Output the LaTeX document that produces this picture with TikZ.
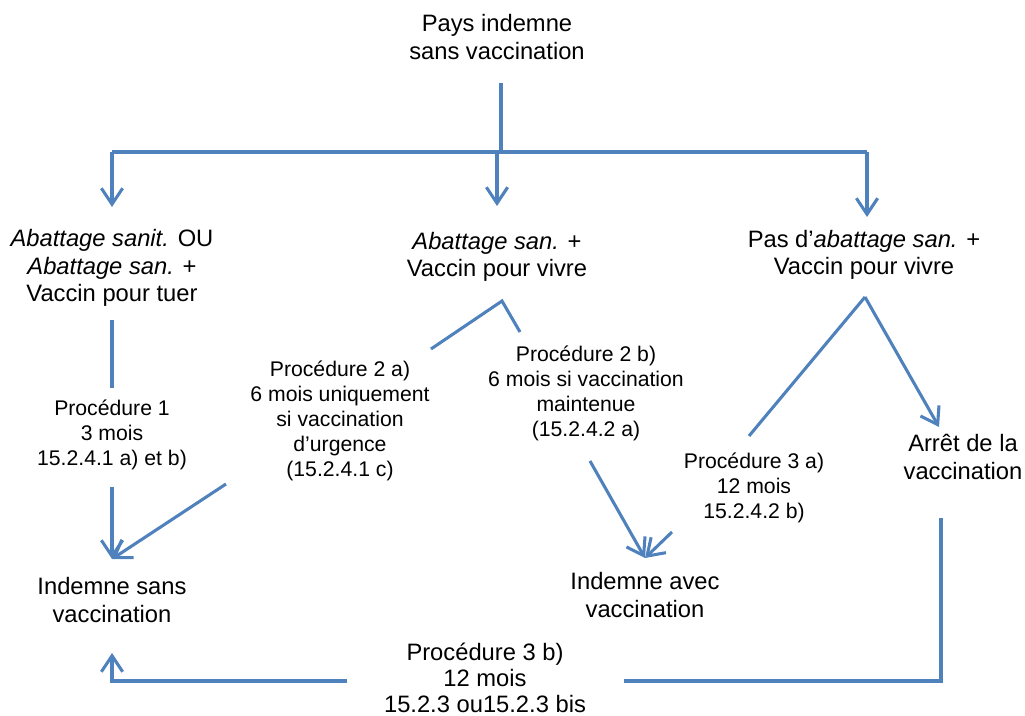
\documentclass[tikz,border=0pt]{standalone}
\usepackage{fontspec}
\setmainfont{Liberation Sans}
\usetikzlibrary{arrows.meta}
\definecolor{flowblue}{RGB}{79,129,189}
\begin{document}
\begin{tikzpicture}[x=0.75pt,y=-0.75pt,
  state/.style={align=center,inner sep=0pt,font=\fontsize{17.8}{20.6}\selectfont},
  proc/.style={align=center,inner sep=0pt,font=\fontsize{15.9}{18.7}\selectfont},
  link/.style={draw=flowblue,line width=2.3pt,line join=miter},
  arr/.style={link,-{Straight Barb[length=12pt,width=16pt,line width=2.3pt]}}]
\useasboundingbox (0,0) rectangle (1025,716);

% states
\node[state] (pays) at (497,37) {Pays indemne\\sans vaccination};
\node[state] (abk) at (112,268) {\textit{Abattage sanit.} OU\\\textit{Abattage san.} +\\Vaccin pour tuer};
\node[state] (abv) at (497,257) {\textit{Abattage san.} +\\Vaccin pour vivre};
\node[state] (nab) at (864,255) {Pas d’\textit{abattage san.} +\\Vaccin pour vivre};
\node[state] (arret) at (963,457) {Arrêt de la\\vaccination};
\node[state] (isv) at (112,600) {Indemne sans\\vaccination};
\node[state] (iav) at (645,595) {Indemne avec\\vaccination};

% procedure labels
\node[proc] (p1) at (112,435) {Procédure 1\\3 mois\\15.2.4.1 a) et b)};
\node[proc] (p2a) at (340,421) {Procédure 2 a)\\6 mois uniquement\\si vaccination\\d’urgence\\(15.2.4.1 c)};
\node[proc] (p2b) at (586,393) {Procédure 2 b)\\6 mois si vaccination\\maintenue\\(15.2.4.2 a)};
\node[proc] (p3a) at (754,488) {Procédure 3 a)\\12 mois\\15.2.4.2 b)};
\node[state,font=\fontsize{17.8}{19.6}\selectfont] (p3b) at (485,678) {Procédure 3 b)\\12 mois\\15.2.3 ou15.2.3 bis};

% connector end points
\coordinate (stemtop) at (501,83);
\coordinate (junc) at (501,152);
\coordinate (jl) at (112,152);
\coordinate (jm) at (497,152);
\coordinate (jr) at (867,152);
\coordinate (tipl) at (112,207);
\coordinate (tipm) at (497,206);
\coordinate (tipr) at (867,217);
\coordinate (p1top) at (112,320);
\coordinate (p1mid) at (112,388);
\coordinate (p1low) at (112,487);
\coordinate (tipisv) at (112,559);
\coordinate (p2aend) at (226,484);
\coordinate (wml) at (431,349);
\coordinate (wmtop) at (502,301);
\coordinate (wmr) at (520,332);
\coordinate (p2bend) at (590,461);
\coordinate (tipiav) at (645,558);
\coordinate (p3aend) at (672,532);
\coordinate (wrl) at (749,436);
\coordinate (wrtop) at (865,297);
\coordinate (tiparret) at (939,427);
\coordinate (rtop) at (941,518);
\coordinate (rbot) at (941,681);
\coordinate (bright) at (624,681);
\coordinate (bleft) at (347,681);
\coordinate (lbot) at (112,681);
\coordinate (tipisv2) at (112,653);

% top branching
\draw[link] (stemtop) -- (junc);
\draw[link] (jl) -- (jr);
\draw[arr] (jl) -- (tipl);
\draw[arr] (jm) -- (tipm);
\draw[arr] (jr) -- (tipr);

% left branch
\draw[link] (p1top) -- (p1mid);
\draw[arr] (p1low) -- (tipisv);
\draw[arr] (p2aend) -- (tipisv);

% middle branch
\draw[link] (wml) -- (wmtop) -- (wmr);
\draw[arr] (p2bend) -- (tipiav);
\draw[arr] (p3aend) -- (tipiav);

% right branch
\draw[link] (wrl) -- (wrtop);
\draw[arr] (wrtop) -- (tiparret);

% return path
\draw[link] (rtop) -- (rbot) -- (bright);
\draw[arr] (bleft) -- (lbot) -- (tipisv2);
\end{tikzpicture}
\end{document}
